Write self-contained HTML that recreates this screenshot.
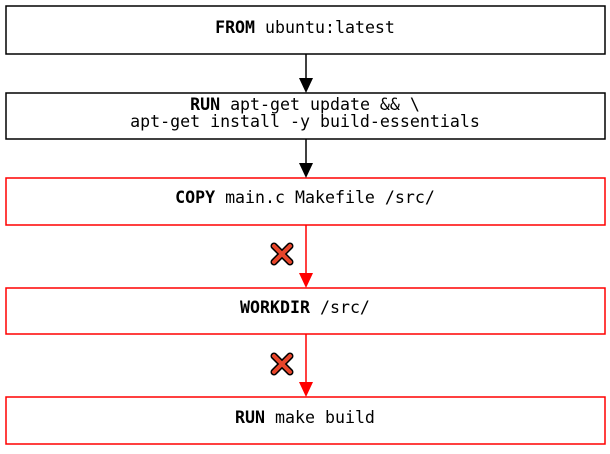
<!DOCTYPE html>
<html><head><style>body{margin:0;background:#fff}</style></head><body>
<svg width="610" height="449" xmlns="http://www.w3.org/2000/svg" font-family="DejaVu Sans Mono, Liberation Mono, monospace" font-size="16.6" text-anchor="middle">
<g fill="#fff" stroke-width="1.5">
<rect x="6" y="6" width="599" height="48" stroke="#000"/>
<rect x="6" y="93" width="599" height="46" stroke="#000"/>
<rect x="6" y="178" width="599" height="47" stroke="#f00"/>
<rect x="6" y="288" width="599" height="46" stroke="#f00"/>
<rect x="6" y="397" width="599" height="47" stroke="#f00"/>
</g>
<line x1="306" y1="54" x2="306" y2="78" stroke="#000" stroke-width="1.5"/>
<path d="M299,78 L313,78 L306,93 Z" fill="#000"/>
<line x1="306" y1="139" x2="306" y2="163" stroke="#000" stroke-width="1.5"/>
<path d="M299,163 L313,163 L306,178 Z" fill="#000"/>
<line x1="306" y1="225" x2="306" y2="273" stroke="#f00" stroke-width="1.5"/>
<path d="M299,273 L313,273 L306,288 Z" fill="#f00"/>
<line x1="306" y1="334" x2="306" y2="382" stroke="#f00" stroke-width="1.5"/>
<path d="M299,382 L313,382 L306,397 Z" fill="#f00"/>
<g stroke-linecap="round">
<g stroke="#000" stroke-width="7"><path d="M274,246 L290,262 M290,246 L274,262"/><path d="M274,356 L290,372 M290,356 L274,372"/></g>
<g stroke="#e8452a" stroke-width="4"><path d="M274,246 L290,262 M290,246 L274,262"/><path d="M274,356 L290,372 M290,356 L274,372"/></g>
</g>
<text x="305" y="33"><tspan font-weight="bold">FROM</tspan> ubuntu:latest</text>
<text x="305" y="110"><tspan font-weight="bold">RUN</tspan> apt-get update &amp;&amp; \</text>
<text x="305" y="127">apt-get install -y build-essentials</text>
<text x="305" y="203"><tspan font-weight="bold">COPY</tspan> main.c Makefile /src/</text>
<text x="305" y="313"><tspan font-weight="bold">WORKDIR</tspan> /src/</text>
<text x="305" y="423"><tspan font-weight="bold">RUN</tspan> make build</text>
</svg>
</body></html>
